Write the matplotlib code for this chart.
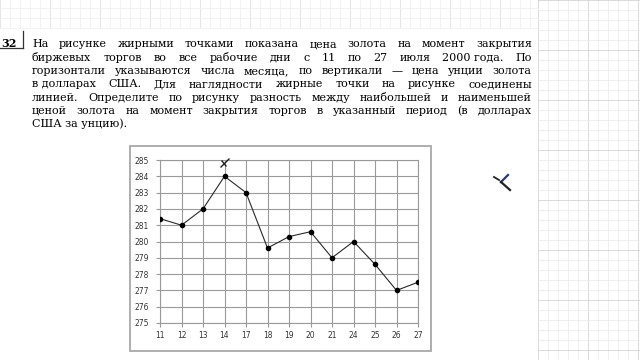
import matplotlib
matplotlib.use('Agg')
import matplotlib.pyplot as plt
from matplotlib.lines import Line2D
from matplotlib.patches import Rectangle

# data
days = ['11', '12', '13', '14', '17', '18', '19', '20', '21', '24', '25', '26', '27']
price = [281.4, 281.0, 282.0, 284.0, 283.0, 279.6, 280.3, 280.6, 279.0, 280.0, 278.6, 277.0, 277.5]
y_ticks = [275, 276, 277, 278, 279, 280, 281, 282, 283, 284, 285]

task_number = '32'
task_lines = [
    'На рисунке жирными точками показана цена золота на момент закрытия',
    'биржевых торгов во все рабочие дни с 11 по 27 июля 2000\u00a0года. По',
    'горизонтали указываются числа месяца, по вертикали — цена унции золота',
    'в\u00a0долларах США. Для наглядности жирные точки на рисунке соединены',
    'линией. Определите по рисунку разность между наибольшей и наименьшей',
    'ценой золота на момент закрытия торгов в указанный период (в долларах',
    'США за\u00a0унцию).',
]

W, H = 640, 360
FS = 8.0
FONT = 'DejaVu Serif'


def fx(x):
    return x / W


def fy(y):
    return 1 - y / H


def fig_line(fig, x1, y1, x2, y2, color, lw):
    fig.add_artist(Line2D([fx(x1), fx(x2)], [fy(y1), fy(y2)],
                          transform=fig.transFigure, color=color, lw=lw))


fig = plt.figure(figsize=(6.4, 3.6), dpi=100)
fig.patch.set_facecolor('white')

# graph paper on the right and along the top
for k in range(11):
    x = 538 + k * 10
    c = '#d4d4d4' if k % 5 == 0 else '#ececec'
    fig_line(fig, x, 0, x, 360, c, 0.6)
for k in range(37):
    y = k * 10
    c = '#d4d4d4' if k % 5 == 0 else '#ececec'
    fig_line(fig, 538, y, 640, y, c, 0.6)
for k in range(54):
    x = k * 10
    c = '#e0e0e0' if k % 5 == 0 else '#f0f0f0'
    fig_line(fig, x, 0, x, 28, c, 0.6)
for y in [8, 18, 28]:
    fig_line(fig, 0, y, 538, y, '#f0f0f0', 0.6)

# task number
fig.text(fx(1), fy(47.3), task_number, fontsize=FS, fontweight='bold',
         family=FONT, ha='left', va='baseline')
fig_line(fig, 22.5, 31, 22.5, 48, '#333333', 0.9)
fig_line(fig, 0, 48, 22.5, 48, '#333333', 0.9)

# justified text
renderer = fig.canvas.get_renderer()
x_left, x_right = 32, 532
for i, line in enumerate(task_lines):
    y = fy(47.3 + i * 13.33)
    if i == len(task_lines) - 1:
        fig.text(fx(x_left), y, line, fontsize=FS, family=FONT,
                 ha='left', va='baseline')
        continue
    words = line.split(' ')
    texts = [fig.text(0, y, w, fontsize=FS, family=FONT,
                      ha='left', va='baseline') for w in words]
    widths = [t.get_window_extent(renderer).width for t in texts]
    gap = (x_right - x_left - sum(widths)) / (len(words) - 1)
    x = x_left
    for t, w in zip(texts, widths):
        t.set_x(fx(x))
        x += w + gap

# chart frame
fig.add_artist(Rectangle((fx(130), fy(351)), fx(301), 205 / H, transform=fig.transFigure,
                         fill=False, edgecolor='#a8a8a8', lw=1.3))

ax = fig.add_axes([fx(160), fy(323), fx(258), 163 / H])
xs = list(range(len(days)))
ax.plot(xs, price, color='#2a2a2a', lw=0.8, marker='o', ms=3,
        mfc='black', mec='black', zorder=3)
ax.set_xlim(0, len(days) - 1)
ax.set_ylim(275, 285)
ax.set_xticks(xs)
ax.set_xticklabels(days)
ax.set_yticks(y_ticks)
ax.grid(True, color='#9a9a9a', lw=0.8)
for s in ax.spines.values():
    s.set_color('#9a9a9a')
    s.set_linewidth(0.8)
ax.tick_params(axis='both', labelsize=5.5, labelcolor='#333333', color='#9a9a9a',
               length=3, width=0.8, pad=3)
ax.tick_params(axis='y', pad=5)

# pen marks from the screenshot
fig_line(fig, 221, 167, 229, 159, '#222222', 1.0)
fig_line(fig, 222, 161, 226, 166, '#222222', 1.0)
fig_line(fig, 494, 177, 499, 180, '#222222', 1.3)
fig_line(fig, 508, 175, 501, 182, '#2a3a70', 1.6)
fig_line(fig, 501, 182, 510, 190, '#222222', 1.6)

fig.savefig('out.png', dpi=100)
